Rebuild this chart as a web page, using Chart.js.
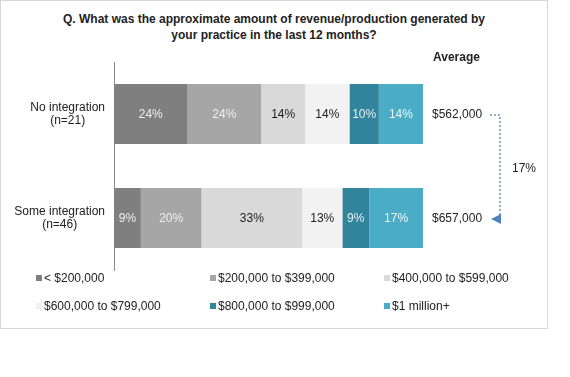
<!DOCTYPE html>
<html>
<head>
<meta charset="utf-8">
<script src="https://cdn.jsdelivr.net/npm/chart.js@4/dist/chart.umd.min.js"></script>
<style>
  body { margin: 0; background: #fff; font-family: "Liberation Sans", Arial, sans-serif; }
  #wrap { position: relative; width: 570px; height: 377px; }
  #frame { position: absolute; left: 0; top: 0; width: 546px; height: 327px; border: 1px solid #d6d6d6; }
  #title { position: absolute; left: 0; width: 548px; top: 11px; text-align: center; font-weight: bold; font-size: 12px; line-height: 16px; color: #222; }
  canvas { position: absolute; left: 0; top: 0; }
  .leg { position: absolute; font-size: 12px; color: #222; white-space: nowrap; line-height: 14px; }
  .leg i { display: inline-block; width: 6px; height: 6px; margin-right: 2px; vertical-align: 1px; }
</style>
</head>
<body>
<div id="wrap">
  <div id="frame"></div>
  <div id="title">Q. What was the approximate amount of revenue/production generated by<br>your practice in the last 12 months?</div>
  <canvas id="chart" width="570" height="377"></canvas>
  <div id="legend"></div>
</div>
<script>
const groups = [["No integration", "(n=21)"], ["Some integration", "(n=46)"]];
const ranges = [
  "< $200,000",
  "$200,000 to $399,000",
  "$400,000 to $599,000",
  "$600,000 to $799,000",
  "$800,000 to $999,000",
  "$1 million+",
];
// share of respondents per range, [No integration, Some integration]
const under200 = [23.8, 8.7];
const from200to399 = [23.8, 19.6];
const from400to599 = [14.3, 32.6];
const from600to799 = [14.3, 13.0];
const from800to999 = [9.5, 8.7];
const millionPlus = [14.3, 17.4];
const averages = ["$562,000", "$657,000"];
const averageChange = "17%";

const colors = ["#7f7f7f", "#a6a6a6", "#d9d9d9", "#f2f2f2", "#31849b", "#4bacc6"];
const labelColors = ["#eeeeee", "#eeeeee", "#222222", "#222222", "#e6f2f6", "#eef8fb"];
const series = [under200, from200to399, from400to599, from600to799, from800to999, millionPlus];

const font = '12px "Liberation Sans", Arial, sans-serif';

const overlay = {
  id: "overlay",
  afterDatasetsDraw(chart) {
    const ctx = chart.ctx;
    const yScale = chart.scales.y;
    ctx.save();
    ctx.font = font;
    ctx.textBaseline = "middle";

    // segment labels
    chart.data.datasets.forEach((ds, i) => {
      chart.getDatasetMeta(i).data.forEach((bar, j) => {
        ctx.fillStyle = labelColors[i];
        ctx.textAlign = "center";
        ctx.fillText(Math.round(ds.data[j]) + "%", (bar.x + bar.base) / 2, bar.y + 1);
      });
    });

    // category labels, right-aligned block with centred lines
    groups.forEach((lines, j) => {
      const cy = yScale.getPixelForValue(j);
      const w = Math.max(...lines.map((l) => ctx.measureText(l).width));
      ctx.fillStyle = "#222";
      ctx.textAlign = "center";
      lines.forEach((line, k) => {
        ctx.fillText(line, 105 - w / 2, cy - 6 + k * 13);
      });
    });

    // averages
    ctx.textAlign = "left";
    ctx.fillStyle = "#222";
    const ys = groups.map((g, j) => yScale.getPixelForValue(j) + 1);
    averages.forEach((a, j) => ctx.fillText(a, 432, ys[j]));
    ctx.font = 'bold 12px "Liberation Sans", Arial, sans-serif';
    ctx.fillText("Average", 433, 58);
    ctx.font = font;

    // dotted connector with arrow
    ctx.strokeStyle = "#6f96c8";
    ctx.lineWidth = 1.5;
    ctx.setLineDash([2, 2]);
    ctx.beginPath();
    ctx.moveTo(490, ys[0]);
    ctx.lineTo(500, ys[0]);
    ctx.lineTo(500, ys[1] - 1);
    ctx.stroke();
    ctx.setLineDash([]);
    ctx.fillStyle = "#4f81bd";
    ctx.beginPath();
    ctx.moveTo(491, ys[1]);
    ctx.lineTo(501, ys[1] - 5);
    ctx.lineTo(501, ys[1] + 5);
    ctx.closePath();
    ctx.fill();
    ctx.fillStyle = "#222";
    ctx.fillText(averageChange, 512, (ys[0] + ys[1]) / 2 + 2);
    ctx.restore();
  },
};

new Chart(document.getElementById("chart"), {
  type: "bar",
  data: {
    labels: groups.map((g) => g.join(" ")),
    datasets: series.map((data, i) => ({
      label: ranges[i],
      data: data,
      backgroundColor: colors[i],
      borderWidth: 0,
      barPercentage: 0.577,
      categoryPercentage: 1,
    })),
  },
  options: {
    indexAxis: "y",
    responsive: false,
    animation: false,
    layout: { padding: { top: 62, bottom: 107, left: 0, right: 147 } },
    scales: {
      x: { stacked: true, min: 0, max: 100, display: false },
      y: {
        stacked: true,
        afterFit: (scale) => { scale.width = 114; },
        ticks: { display: false },
        grid: { display: false, drawTicks: false },
        border: { display: true, color: "#8c8c8c", width: 1 },
      },
    },
    plugins: { legend: { display: false }, tooltip: { enabled: false } },
  },
  plugins: [overlay],
});

// legend, three columns by two rows
const legendX = [36, 210, 384];
const legendY = [271, 299];
const legend = document.getElementById("legend");
ranges.forEach((r, i) => {
  const item = document.createElement("div");
  item.className = "leg";
  item.style.left = legendX[i % 3] + "px";
  item.style.top = legendY[Math.floor(i / 3)] + "px";
  item.innerHTML = `<i style="background:${colors[i]}"></i>`;
  item.appendChild(document.createTextNode(r));
  legend.appendChild(item);
});
</script>
</body>
</html>
